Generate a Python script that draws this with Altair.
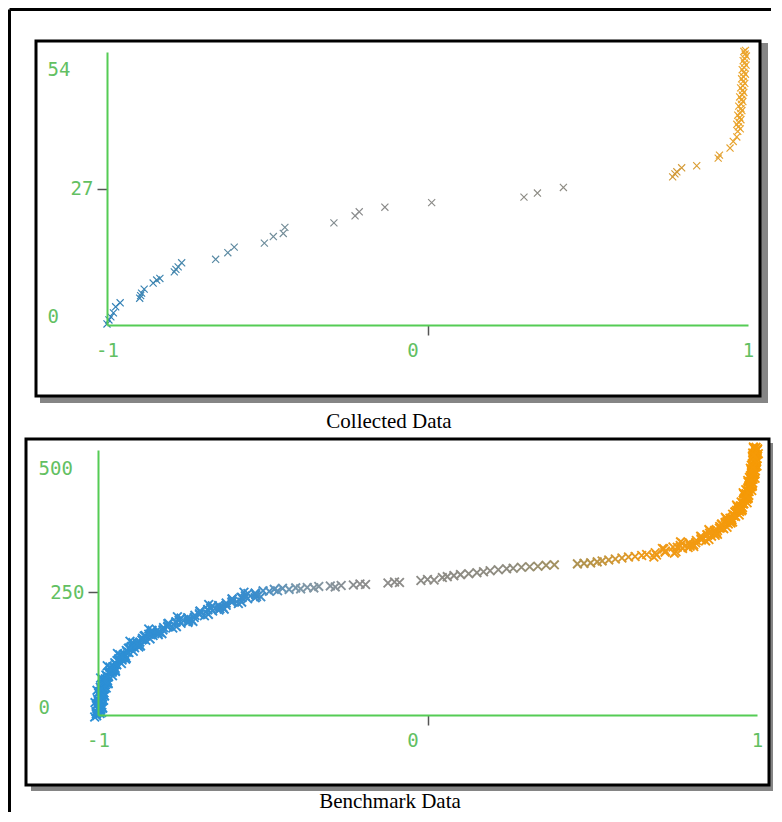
import altair as alt
import pandas as pd

# ---------------- data: "Collected Data" panel ----------------
collected_x = [-1.000, -0.994, -0.988, -0.980, -0.973, -0.959,
               -0.898, -0.895, -0.892, -0.884,
               -0.856, -0.845, -0.835,
               -0.790, -0.785, -0.778, -0.767,
               -0.661, -0.623, -0.603,
               -0.509, -0.481, -0.450, -0.445,
               -0.292, -0.226, -0.213, -0.133, 0.013,
               0.301, 0.343, 0.424,
               0.765, 0.772, 0.778, 0.793, 0.840, 0.907, 0.911, 0.944, 0.954, 0.965,
               0.968, 0.970, 0.972, 0.974, 0.976, 0.978, 0.979, 0.980, 0.982, 0.983,
               0.984, 0.985, 0.986, 0.987, 0.988, 0.989, 0.990, 0.991, 0.992]
collected_y = [0.2, 1.0, 1.6, 2.4, 3.6, 4.4,
               5.3, 5.8, 6.3, 7.1,
               8.3, 8.9, 9.2,
               10.5, 11.0, 11.5, 12.3,
               13.0, 14.3, 15.4,
               16.2, 17.5, 18.1, 19.3,
               20.2, 21.6, 22.4, 23.3, 24.2,
               25.3, 26.1, 27.2,
               29.3, 29.9, 30.3, 31.1, 31.5, 33.0, 33.6, 35.0, 36.3, 37.2,
               38.3, 39.2, 40.1, 41.0, 41.9, 42.8, 43.7, 44.6, 45.5, 46.4,
               47.3, 48.2, 49.1, 50.0, 50.9, 51.8, 52.7, 53.6, 54.3]
# second run of points in the dense column on the right
collected_col_x = [0.976, 0.965, 0.978, 0.968, 0.981, 0.971, 0.984, 0.974, 0.987,
                   0.977, 0.990, 0.980, 0.992, 0.982, 0.994, 0.985, 0.995, 0.987]
collected_col_y = [38.8, 39.7, 40.6, 41.5, 42.4, 43.3, 44.2, 45.1, 46.0,
                   46.9, 47.8, 48.7, 49.6, 50.5, 51.4, 52.3, 53.2, 54.1]

# ---------------- data: "Benchmark Data" panel ----------------
bench_left_x = [-0.994, -1.004, -0.997, -1.006, -0.989, -0.999, -0.993, -1.002, -0.989, -0.998,
                -0.989, -0.999, -0.992, -1.001, -0.983, -0.994, -0.987, -0.996, -0.982, -0.992,
                -0.982, -0.992, -0.984, -0.993, -0.975, -0.984, -0.977, -0.985, -0.971, -0.979,
                -0.968, -0.977, -0.968, -0.976, -0.956, -0.965, -0.957, -0.964, -0.948, -0.956,
                -0.944, -0.952, -0.942, -0.949, -0.929, -0.937, -0.927, -0.934, -0.917, -0.924,
                -0.911, -0.919, -0.908, -0.914, -0.893, -0.899, -0.889, -0.894, -0.876, -0.881,
                -0.867, -0.873, -0.860, -0.865, -0.842, -0.846, -0.833, -0.836, -0.816, -0.818,
                -0.801, -0.803, -0.788, -0.788, -0.762, -0.763, -0.748, -0.748, -0.725, -0.725,
                -0.706, -0.708, -0.691, -0.692, -0.665, -0.667, -0.652, -0.653, -0.631, -0.630,
                -0.611, -0.611, -0.593, -0.592, -0.564, -0.563, -0.546, -0.545, -0.521, -0.519,
                -0.499]
bench_left_y = [3, -1.5, 11, 6.5, 5, 14.5, 12, 22.5, 20, 16.5,
                28, 23.5, 36, 31.5, 30, 39.5, 37, 47.5, 45, 41.5,
                53, 48.5, 61, 56.5, 55, 64.5, 62, 72.5, 70, 66.5,
                78, 73.5, 86, 81.5, 80, 89.5, 87, 97.5, 95, 91.5,
                103, 98.5, 111, 106.5, 105, 114.5, 112, 122.5, 120, 116.5,
                128, 123.5, 136, 131.5, 130, 139.5, 137, 147.5, 145, 141.5,
                153, 148.5, 161, 156.5, 155, 164.5, 162, 172.5, 170, 166.5,
                178, 173.5, 186, 181.5, 180, 189.5, 187, 197.5, 195, 191.5,
                203, 198.5, 211, 206.5, 205, 214.5, 212, 222.5, 220, 216.5,
                228, 223.5, 236, 231.5, 230, 239.5, 237, 247.5, 245, 241.5,
                253]
bench_left2_x = [-1.010, -0.991, -1.003, -0.986, -1.005, -0.994, -1.009, -0.986, -0.997, -0.990,
                 -1.005, -0.986, -0.998, -0.981, -0.999, -0.989, -1.003, -0.980, -0.990, -0.984,
                 -0.998, -0.979, -0.990, -0.973, -0.990, -0.979, -0.992, -0.969, -0.978, -0.970,
                 -0.983, -0.963, -0.973, -0.955, -0.971, -0.959, -0.972, -0.947, -0.955, -0.947,
                 -0.959, -0.938, -0.947, -0.928, -0.943, -0.930, -0.941, -0.916, -0.923, -0.914,
                 -0.925, -0.904, -0.912, -0.892, -0.906, -0.892, -0.903, -0.876, -0.882, -0.871,
                 -0.880, -0.857, -0.863, -0.842, -0.855, -0.838, -0.846, -0.817, -0.820, -0.806,
                 -0.813, -0.786, -0.789, -0.764, -0.773, -0.754, -0.759, -0.727, -0.728, -0.712,
                 -0.717, -0.690, -0.692, -0.667, -0.677, -0.658, -0.664, -0.633, -0.634, -0.617,
                 -0.621, -0.593, -0.594, -0.566, -0.574, -0.553, -0.557, -0.523, -0.523, -0.506]
bench_left2_y = [-4, 11.8, 4.3, 14.8, 2.3, 17.8, 25.3, 13.8, 23.3, 15.8,
                 19.3, 36.8, 29.3, 39.8, 27.3, 42.8, 50.3, 38.8, 48.3, 40.8,
                 44.3, 61.8, 54.3, 64.8, 52.3, 67.8, 75.3, 63.8, 73.3, 65.8,
                 69.3, 86.8, 79.3, 89.8, 77.3, 92.8, 100.3, 88.8, 98.3, 90.8,
                 94.3, 111.8, 104.3, 114.8, 102.3, 117.8, 125.3, 113.8, 123.3, 115.8,
                 119.3, 136.8, 129.3, 139.8, 127.3, 142.8, 150.3, 138.8, 148.3, 140.8,
                 144.3, 161.8, 154.3, 164.8, 152.3, 167.8, 175.3, 163.8, 173.3, 165.8,
                 169.3, 186.8, 179.3, 189.8, 177.3, 192.8, 200.3, 188.8, 198.3, 190.8,
                 194.3, 211.8, 204.3, 214.8, 202.3, 217.8, 225.3, 213.8, 223.3, 215.8,
                 219.3, 236.8, 229.3, 239.8, 227.3, 242.8, 250.3, 238.8, 248.3, 240.8]
bench_mid_x = [-0.480, -0.465, -0.455, -0.440, -0.420, -0.400, -0.385, -0.365, -0.345, -0.330,
               -0.295, -0.280, -0.262, -0.225, -0.205, -0.188, -0.120, -0.100, -0.085,
               -0.020, 0.000, 0.020, 0.045, 0.060, 0.080, 0.100, 0.125, 0.150, 0.170, 0.190,
               0.215, 0.240, 0.260, 0.285, 0.310, 0.335, 0.360, 0.385,
               0.455, 0.475, 0.495, 0.515, 0.530, 0.550, 0.570, 0.590, 0.610, 0.630, 0.650, 0.665]
bench_mid_y = [252, 256, 253, 258, 256, 259, 257, 260, 259, 262,
               263, 261, 264, 265, 267, 266, 269, 271, 270,
               274, 276, 275, 280, 282, 284, 286, 288, 290, 292, 294,
               296, 298, 299, 301, 302, 303, 305, 306,
               308, 309, 310, 312, 314, 316, 318, 320, 322, 323, 325, 327]
bench_right_x = [0.691, 0.695, 0.717, 0.722, 0.754, 0.758, 0.774, 0.774, 0.797, 0.797,
                 0.816, 0.814, 0.831, 0.830, 0.854, 0.849, 0.862, 0.858, 0.876, 0.872,
                 0.886, 0.880, 0.892, 0.887, 0.909, 0.903, 0.913, 0.907, 0.924, 0.918,
                 0.930, 0.923, 0.933, 0.926, 0.946, 0.938, 0.947, 0.940, 0.956, 0.948,
                 0.960, 0.951, 0.960, 0.952, 0.970, 0.961, 0.969, 0.960, 0.975, 0.966,
                 0.976, 0.967, 0.975, 0.966, 0.984, 0.975, 0.982, 0.973, 0.987, 0.978,
                 0.988, 0.978, 0.986, 0.977, 0.994, 0.984, 0.991, 0.982, 0.995, 0.986,
                 0.996, 0.985, 0.993, 0.983, 1.000, 0.990, 0.997, 0.987, 1.000, 0.991,
                 1.000, 0.989, 0.996, 0.987, 1.004, 0.993, 1.000, 0.990]
bench_right_y = [330.5, 326, 338.5, 334, 332.5, 342, 339.5, 350, 347.5, 344,
                 355.5, 351, 363.5, 359, 357.5, 367, 364.5, 375, 372.5, 369,
                 380.5, 376, 388.5, 384, 382.5, 392, 389.5, 400, 397.5, 394,
                 405.5, 401, 413.5, 409, 407.5, 417, 414.5, 425, 422.5, 419,
                 430.5, 426, 438.5, 434, 432.5, 442, 439.5, 450, 447.5, 444,
                 455.5, 451, 463.5, 459, 457.5, 467, 464.5, 475, 472.5, 469,
                 480.5, 476, 488.5, 484, 482.5, 492, 489.5, 500, 497.5, 494,
                 505.5, 501, 513.5, 509, 507.5, 517, 514.5, 525, 522.5, 519,
                 530.5, 526, 538.5, 534, 532.5, 542, 539.5, 544]
bench_right2_x = [0.687, 0.713, 0.721, 0.745, 0.749, 0.767, 0.768, 0.791, 0.794, 0.808,
                  0.808, 0.829, 0.831, 0.848, 0.844, 0.856, 0.854, 0.873, 0.871, 0.880,
                  0.877, 0.893, 0.891, 0.905, 0.899, 0.909, 0.904, 0.921, 0.918, 0.926,
                  0.920, 0.934, 0.931, 0.943, 0.935, 0.944, 0.938, 0.953, 0.949, 0.955,
                  0.949, 0.962, 0.957, 0.967, 0.958, 0.966, 0.958, 0.973, 0.967, 0.973,
                  0.965, 0.977, 0.972, 0.982, 0.972, 0.979, 0.972, 0.986, 0.980, 0.985,
                  0.977, 0.989, 0.982, 0.992, 0.982, 0.989, 0.980, 0.994, 0.988, 0.992,
                  0.984, 0.995, 0.989, 0.998, 0.988, 0.994, 0.986, 0.999, 0.992, 0.997,
                  0.988, 0.999, 0.992, 1.002, 0.991, 0.997, 0.989]
bench_right2_y = [321.8, 339.3, 331.8, 342.3, 329.8, 345.3, 352.8, 341.3, 350.8, 343.3,
                  346.8, 364.3, 356.8, 367.3, 354.8, 370.3, 377.8, 366.3, 375.8, 368.3,
                  371.8, 389.3, 381.8, 392.3, 379.8, 395.3, 402.8, 391.3, 400.8, 393.3,
                  396.8, 414.3, 406.8, 417.3, 404.8, 420.3, 427.8, 416.3, 425.8, 418.3,
                  421.8, 439.3, 431.8, 442.3, 429.8, 445.3, 452.8, 441.3, 450.8, 443.3,
                  446.8, 464.3, 456.8, 467.3, 454.8, 470.3, 477.8, 466.3, 475.8, 468.3,
                  471.8, 489.3, 481.8, 492.3, 479.8, 495.3, 502.8, 491.3, 500.8, 493.3,
                  496.8, 514.3, 506.8, 517.3, 504.8, 520.3, 527.8, 516.3, 525.8, 518.3,
                  521.8, 539.3, 531.8, 542.3, 529.8, 545.3, 546.0]

x_ticks = [-1, 0, 1]
collected_y_ticks = [0, 27, 54]
bench_y_ticks = [0, 250, 500]
captions = ["Collected Data", "Benchmark Data"]

collected_color_domain = [-1.0, -0.8, -0.5, -0.2, 0.45, 0.75, 1.0]
collected_color_range = ["#2f7fb8", "#4286ae", "#6d8c9a", "#8a8a8a", "#8e8c84", "#cf9838", "#eda52a"]
bench_color_domain = [-1.0, -0.52, -0.38, -0.2, 0.25, 0.5, 0.65, 1.0]
bench_color_range = ["#2b8fd6", "#3a8dcc", "#7f98a8", "#8c8c8c", "#8f8c80", "#b89448", "#ee9a1a", "#f69a05"]

collected = pd.DataFrame({"x": collected_x + collected_col_x,
                          "y": collected_y + collected_col_y})
bench = pd.DataFrame({"x": bench_left_x + bench_left2_x + bench_mid_x + bench_right_x + bench_right2_x,
                      "y": bench_left_y + bench_left2_y + bench_mid_y + bench_right_y + bench_right2_y})
one = pd.DataFrame({"k": [0]})

X_SHAPE = "M-1,-1L1,1M-1,1L1,-1"
GREEN = "#55cc55"
LABEL_GREEN = "#62c062"
LFONT = "DejaVu Sans Mono"


def cond(test, a, b):
    return {"condition": {"test": test, "value": a}, "value": b}


def make_panel(df, width, height, x_range, y_domain, y_ticks, axis_offset,
               lo_off, hi_off, frame, shadow, caption, cap_xy, cdom, crange,
               msize, mstroke):
    lo, mid, hi = y_ticks
    x_axis = alt.Axis(values=x_ticks, title=None, grid=False, zindex=1,
                      domainColor=GREEN, domainWidth=2,
                      tickColor="#555555", tickWidth=1.5, tickSize=10,
                      tickOpacity=cond("datum.value == 0", 1, 0),
                      labelFont=LFONT, labelFontSize=19, labelColor=LABEL_GREEN,
                      labelFlush=False, labelPadding=6,
                      labelOffset=cond("datum.value == 0", -15, 0),
                      labelExpr="datum.value < 0 ? '-' + format(-datum.value, 'd') : format(datum.value, 'd')")
    y_axis = alt.Axis(values=y_ticks, title=None, grid=False, zindex=1,
                      offset=axis_offset,
                      domainColor=GREEN, domainWidth=2,
                      tickColor="#555555", tickWidth=1.5, tickSize=10,
                      tickOpacity=cond(f"datum.value == {mid}", 1, 0),
                      labelFont=LFONT, labelFontSize=19, labelColor=LABEL_GREEN,
                      labelFlush=False, labelBaseline="middle",
                      labelAlign=cond(f"datum.value == {mid}", "right", "left"),
                      labelPadding=cond(f"datum.value == {mid}", 4, 50),
                      labelOffset={"condition": [
                          {"test": f"datum.value == {lo}", "value": lo_off},
                          {"test": f"datum.value == {hi}", "value": hi_off}],
                          "value": 0})
    xs = alt.Scale(domain=[-1, 1], range=x_range, nice=False)
    ys = alt.Scale(domain=y_domain, nice=False)

    fx1, fy1, fx2, fy2 = frame
    sx1, sy1, sx2, sy2 = shadow
    base1 = alt.Chart(one)
    shadow_l = base1.mark_rect(fill="#858585").encode(
        x=alt.value(sx1), x2=alt.value(sx2), y=alt.value(sy1), y2=alt.value(sy2))
    frame_l = base1.mark_rect(fill="white", stroke="black", strokeWidth=3).encode(
        x=alt.value(fx1), x2=alt.value(fx2), y=alt.value(fy1), y2=alt.value(fy2))
    cap_l = base1.mark_text(text=caption, font="Liberation Serif", fontSize=21,
                            color="black", align="center", baseline="middle").encode(
        x=alt.value(cap_xy[0]), y=alt.value(cap_xy[1]))
    pts = alt.Chart(df).mark_point(shape=X_SHAPE, filled=False, size=msize, strokeWidth=mstroke,
                                   opacity=1).encode(
        x=alt.X("x:Q", scale=xs, axis=x_axis),
        y=alt.Y("y:Q", scale=ys, axis=y_axis),
        color=alt.Color("x:Q", scale=alt.Scale(domain=cdom, range=crange), legend=None))
    return [shadow_l, frame_l, cap_l, pts], width, height


layers1, w1, h1 = make_panel(collected, 659, 273, [9, 650], [0, 54], collected_y_ticks, -9,
                             -9, 17, (-62, -11, 662, 344), (-58, -9, 670, 351),
                             captions[0], (291, 370),
                             collected_color_domain, collected_color_range, 50, 1.15)
layers2, w2, h2 = make_panel(bench, 659, 265, [0, 659], [0, 540], bench_y_ticks, 0,
                             -8, -1, (-72, -11, 671, 335), (-67, -7, 675, 341),
                             captions[1], (292, 352),
                             bench_color_domain, bench_color_range, 76, 1.9)

one_c = alt.Chart(one)
outer_top = one_c.mark_rule(color="black", strokeWidth=3).encode(
    x=alt.value(-88.5), x2=alt.value(673), y=alt.value(-42.5))
outer_left = one_c.mark_rule(color="black", strokeWidth=3).encode(
    x=alt.value(-88.5), y=alt.value(-42.5), y2=alt.value(760))

p1 = alt.layer(outer_top, outer_left, *layers1).properties(width=w1, height=h1)
p2 = alt.layer(*layers2).properties(width=w2, height=h2)

chart = alt.vconcat(p1, p2, spacing=125, bounds="flush").resolve_scale(
    color="independent"
).properties(
    padding=0, background="white"
).configure_view(strokeWidth=0)

chart.save("out.html", embed_options={"renderer": "svg", "actions": False})
